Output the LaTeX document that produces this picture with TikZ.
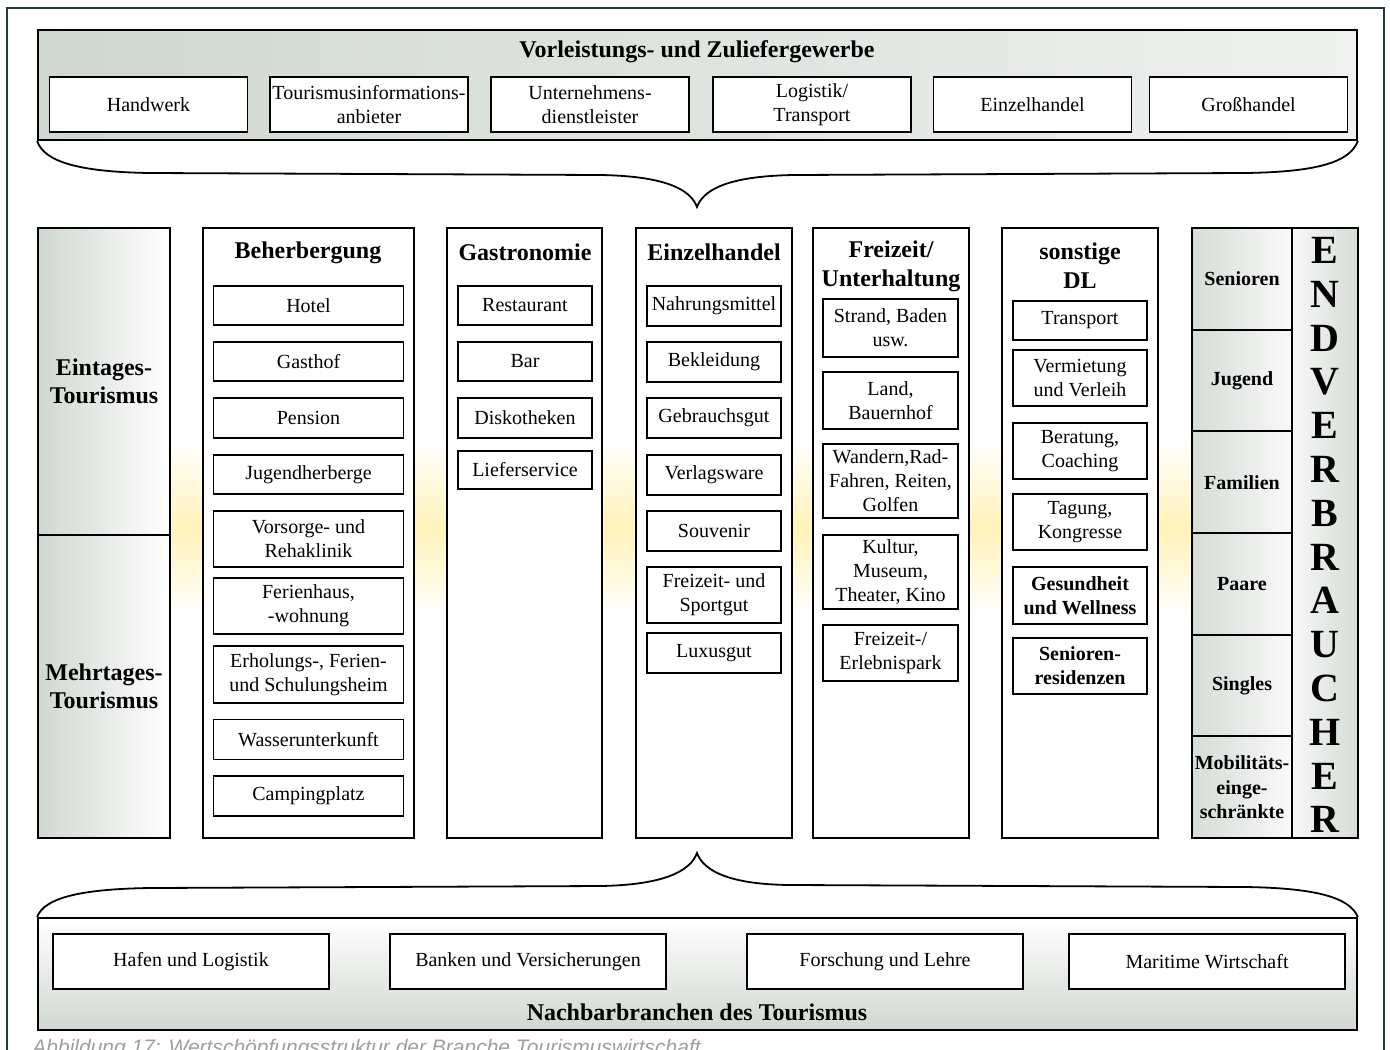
\documentclass[tikz,border=0pt]{standalone}
\usepackage{fontspec}
\setmainfont{Liberation Serif}
\newfontfamily\capfont{Liberation Sans}

\definecolor{framegreen}{RGB}{35,62,40}
\definecolor{bandgray}{RGB}{208,215,208}
\definecolor{cellgray}{RGB}{214,220,214}
\definecolor{glow}{RGB}{255,243,185}

\begin{document}
\begin{tikzpicture}[x=0.5pt,y=-0.5pt,
  col/.style={draw,line width=0.9pt,fill=white,inner sep=0pt},
  sub/.style={draw,line width=0.9pt,fill=white,align=center,inner sep=1pt,font=\fontsize{10}{12}\selectfont},
  subbold/.style={sub,font=\fontsize{10}{12}\selectfont\bfseries},
  head/.style={align=center,inner sep=0pt,font=\fontsize{12}{14.5}\selectfont\bfseries},
  band/.style={draw,line width=0.9pt,inner sep=0pt},
  cell/.style={draw,line width=0.9pt,inner sep=0pt,align=center,left color=cellgray,right color=white!85!cellgray,font=\fontsize{10}{12.2}\selectfont\bfseries},
  brace/.style={line width=0.9pt}
]
\useasboundingbox (0,0) rectangle (1390,1049);
\fill[white] (0,0) rectangle (1390,1049);

% yellow glow behind the middle
\shade[top color=white,bottom color=white,middle color=glow] (172,440) rectangle (1194,616);

% outer frame
\draw[framegreen,line width=1.1pt] (7,8) rectangle (1384,1080);

% Vorleistungs- und Zuliefergewerbe
\node[band,left color=bandgray,right color=white!65!bandgray,minimum width=659.5pt,minimum height=55pt] (vor) at (697.5,85) {};
\node[head] (vortitle) at (697,52) {Vorleistungs- und Zuliefergewerbe};
\node[sub,minimum width=99pt,minimum height=27.5pt] (handwerk) at (148.5,104.5) {Handwerk};
\node[sub,minimum width=99pt,minimum height=27.5pt] (tinfo) at (369,104.5) {Tourismusinformations-\\anbieter};
\node[sub,minimum width=99pt,minimum height=27.5pt] (udl) at (590,104.5) {Unternehmens-\\dienstleister};
\node[sub,minimum width=99pt,minimum height=27.5pt] (logistik) at (812,104.5) {Logistik/\\Transport};
\node[sub,minimum width=99pt,minimum height=27.5pt] (ehtop) at (1032.5,104.5) {Einzelhandel};
\node[sub,minimum width=99pt,minimum height=27.5pt] (gross) at (1248.5,104.5) {Großhandel};

\coordinate (toptip) at (697,207);
\draw[brace] (vor.south west) .. controls (44,162) and (80,172) .. (150,173) -- (600,175)
  .. controls (662,176) and (690,188) .. (toptip)
  .. controls (704,188) and (732,176) .. (794,175) -- (1245,173)
  .. controls (1318,172) and (1350,162) .. (vor.south east);

% Eintages / Mehrtages
\node[band,left color=bandgray,right color=white,minimum width=66pt,minimum height=153.5pt,align=center,font=\fontsize{12}{14}\selectfont\bfseries] (eintag) at (104,381.5) {Eintages-\\Tourismus};
\node[band,left color=bandgray,right color=white,minimum width=66pt,minimum height=151.5pt,align=center,font=\fontsize{12}{14}\selectfont\bfseries] (mehrtag) at (104,686.5) {Mehrtages-\\Tourismus};

% Beherbergung
\node[col,minimum width=105.5pt,minimum height=305pt] (beh) at (308.5,533) {};
\node[head] (behtitle) at (308,253) {Beherbergung};
\node[sub,minimum width=95pt,minimum height=19.5pt] (hotel) at (308.5,305.5) {Hotel};
\node[sub,minimum width=95pt,minimum height=19.5pt] (gasthof) at (308.5,361.5) {Gasthof};
\node[sub,minimum width=95pt,minimum height=20pt] (pension) at (308.5,418) {Pension};
\node[sub,minimum width=95pt,minimum height=19.5pt] (jugendh) at (308.5,474.5) {Jugendherberge};
\node[sub,minimum width=95pt,minimum height=28pt] (vorsorge) at (308.5,539) {Vorsorge- und\\Rehaklinik};
\node[sub,minimum width=95pt,minimum height=28pt] (ferienh) at (308.5,606) {Ferienhaus,\\-wohnung};
\node[sub,minimum width=95pt,minimum height=28.5pt] (erholung) at (308.5,674.5) {Erholungs-, Ferien-\\und Schulungsheim};
\node[sub,minimum width=95pt,minimum height=20pt] (wasser) at (308.5,739.5) {Wasserunterkunft};
\node[sub,minimum width=95pt,minimum height=20pt] (camping) at (308.5,796) {Campingplatz};

% Gastronomie
\node[col,minimum width=77.5pt,minimum height=305pt] (gastro) at (524.5,533) {};
\node[head] (gastrotitle) at (525,252) {Gastronomie};
\node[sub,minimum width=67pt,minimum height=19.5pt] (restaurant) at (525,305.5) {Restaurant};
\node[sub,minimum width=67pt,minimum height=19.5pt] (bar) at (525,361.5) {Bar};
\node[sub,minimum width=67pt,minimum height=20pt] (disko) at (525,418) {Diskotheken};
\node[sub,minimum width=67pt,minimum height=19pt] (liefer) at (525,470) {Lieferservice};

% Einzelhandel
\node[col,minimum width=78pt,minimum height=305pt] (einzel) at (714,533) {};
\node[head] (einzeltitle) at (714,252) {Einzelhandel};
\node[sub,minimum width=67pt,minimum height=20pt] (nahrung) at (714,306) {Nahrungsmittel};
\node[sub,minimum width=67pt,minimum height=20pt] (bekleidung) at (714,362) {Bekleidung};
\node[sub,minimum width=67pt,minimum height=20pt] (gebrauch) at (714,418) {Gebrauchsgut};
\node[sub,minimum width=67pt,minimum height=20pt] (verlag) at (714,475) {Verlagsware};
\node[sub,minimum width=67pt,minimum height=20pt] (souvenir) at (714,531) {Souvenir};
\node[sub,minimum width=67pt,minimum height=28pt] (sportgut) at (714,595) {Freizeit- und\\Sportgut};
\node[sub,minimum width=67pt,minimum height=20pt] (luxus) at (714,653) {Luxusgut};

% Freizeit / Unterhaltung
\node[col,minimum width=78pt,minimum height=305pt] (freizeit) at (891,533) {};
\node[head] (freizeittitle) at (891,266.5) {Freizeit/\\Unterhaltung};
\node[sub,minimum width=67.5pt,minimum height=29pt] (strand) at (890.5,328) {Strand, Baden\\usw.};
\node[sub,minimum width=67.5pt,minimum height=28.5pt] (land) at (890.5,400.5) {Land,\\Bauernhof};
\node[sub,minimum width=67.5pt,minimum height=37pt] (wandern) at (890.5,481) {Wandern,Rad-\\Fahren, Reiten,\\Golfen};
\node[sub,minimum width=67.5pt,minimum height=37pt] (kultur) at (890.5,572) {Kultur,\\Museum,\\Theater, Kino};
\node[sub,minimum width=67.5pt,minimum height=28pt] (erlebnis) at (890.5,653) {Freizeit-/\\Erlebnispark};

% sonstige DL
\node[col,minimum width=78pt,minimum height=305pt] (sonst) at (1080,533) {};
\node[head] (sonsttitle) at (1080,265.5) {sonstige\\DL};
\node[sub,minimum width=67pt,minimum height=19.5pt] (transport) at (1080,320.5) {Transport};
\node[sub,minimum width=67pt,minimum height=28pt] (vermietung) at (1080,378) {Vermietung\\und Verleih};
\node[sub,minimum width=67pt,minimum height=28pt] (beratung) at (1080,451) {Beratung,\\Coaching};
\node[sub,minimum width=67pt,minimum height=28pt] (tagung) at (1080,522) {Tagung,\\Kongresse};
\node[subbold,minimum width=67pt,minimum height=28.5pt] (wellness) at (1080,595.5) {Gesundheit\\und Wellness};
\node[subbold,minimum width=67pt,minimum height=28pt] (residenz) at (1080,666) {Senioren-\\residenzen};

% Endverbraucher
\node[cell,minimum width=50pt,minimum height=50.85pt] (senioren) at (1242,278.8) {Senioren};
\node[cell,minimum width=50pt,minimum height=50.85pt] (jugend) at (1242,380.5) {Jugend};
\node[cell,minimum width=50pt,minimum height=50.85pt] (familien) at (1242,482.2) {Familien};
\node[cell,minimum width=50pt,minimum height=50.85pt] (paare) at (1242,583.8) {Paare};
\node[cell,minimum width=50pt,minimum height=50.85pt] (singles) at (1242,685.5) {Singles};
\node[cell,minimum width=50pt,minimum height=50.85pt] (mobil) at (1242,787.2) {Mobilitäts-\\einge-\\schränkte};
\node[band,left color=white!80!cellgray,right color=cellgray,minimum width=33pt,minimum height=305pt] (endv) at (1325,533) {};
\node[align=center,inner sep=0pt,font=\fontsize{20}{21.9}\selectfont\bfseries] (endvtext) at (1325,535) {E\\N\\D\\V\\E\\R\\B\\R\\A\\U\\C\\H\\E\\R};

% Nachbarbranchen des Tourismus
\node[band,top color=white,bottom color=bandgray,minimum width=659.5pt,minimum height=56pt] (nach) at (697.5,974) {};
\node[sub,minimum width=138pt,minimum height=27.5pt] (hafen) at (191,961.5) {Hafen und Logistik};
\node[sub,minimum width=138pt,minimum height=27.5pt] (banken) at (528,961.5) {Banken und Versicherungen};
\node[sub,minimum width=138pt,minimum height=27.5pt] (forschung) at (885,961.5) {Forschung und Lehre};
\node[sub,minimum width=138pt,minimum height=27.5pt] (maritim) at (1207,961.5) {Maritime Wirtschaft};
\node[head] (nachtitle) at (697,1012) {Nachbarbranchen des Tourismus};

\coordinate (bottip) at (697,853);
\draw[brace] (nach.north west) .. controls (44,898) and (80,889) .. (150,888) -- (600,886)
  .. controls (662,885) and (690,872) .. (bottip)
  .. controls (704,872) and (732,885) .. (794,885) -- (1245,887)
  .. controls (1318,888) and (1350,898) .. (nach.north east);

% caption, cut off by the page edge as in the scan
\node[anchor=base west,inner sep=0pt,text=gray!75,font=\capfont\itshape\fontsize{10.5}{12}\selectfont] (caption) at (32,1054) {Abbildung 17: Wertschöpfungsstruktur der Branche Tourismuswirtschaft};
\end{tikzpicture}
\end{document}
